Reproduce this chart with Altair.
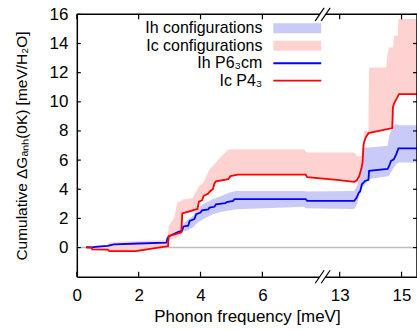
import altair as alt
import pandas as pd

# ---------------- data (frequencies in meV, values in meV/H2O) ----------------
# Ih P6_3cm cumulative curve (blue)
IH_F = [0.30, 0.50, 0.60, 1.00, 1.20, 2.00, 2.90, 2.93, 3.00, 3.30, 3.40, 3.45, 3.60, 3.65,
        3.80, 3.86, 4.00, 4.05, 4.25, 4.29, 4.45, 4.50, 4.80, 4.85, 5.05, 5.10, 7.40, 7.45,
        13.47, 13.55, 13.62, 13.66, 13.72, 13.82, 13.93, 13.95, 14.55, 14.60, 14.66, 14.75,
        14.83, 14.90, 15.50]
IH_Y = [0.03, 0.02, 0.05, 0.12, 0.22, 0.28, 0.34, 0.65, 0.80, 1.10, 1.15, 1.45, 1.50, 1.83,
        1.95, 2.29, 2.40, 2.56, 2.62, 2.75, 2.80, 2.97, 3.05, 3.12, 3.20, 3.32, 3.32, 3.20,
        3.20, 3.43, 3.78, 3.85, 4.35, 4.57, 4.65, 5.26, 5.40, 5.60, 5.95, 6.05,
        6.41, 6.80, 6.80]

# Ic P4_3 cumulative curve (red)
IC_F = [0.30, 0.47, 0.50, 1.00, 1.05, 1.90, 2.90, 2.95, 2.97, 3.38, 3.41, 3.90, 3.95, 4.05,
        4.10, 4.25, 4.30, 4.40, 4.45, 4.50, 4.90, 4.97, 5.20, 7.40, 7.45, 12.90, 13.47,
        13.55, 13.63, 13.70, 13.74, 13.77, 13.79, 13.84, 13.93, 14.70, 14.72, 14.76, 14.92,
        15.50]
IC_Y = [0.00, 0.00, -0.12, -0.14, -0.25, -0.25, 0.08, 0.10, 0.78, 1.05, 2.35, 2.65, 3.15, 3.25,
        3.55, 3.70, 3.85, 4.00, 4.40, 4.55, 4.70, 4.90, 5.00, 5.00, 4.83, 4.64, 4.51,
        4.60, 4.90, 5.40, 5.84, 7.00, 7.25, 7.55, 7.85, 8.20, 9.62, 9.90, 10.53,
        10.53]

# Ih configurations band (lavender)
IHB_F = [0.30, 1.00, 1.20, 2.00, 2.90, 2.93, 3.00, 3.30, 3.40, 3.45, 3.54, 3.75, 3.90, 4.08,
         4.40, 4.67, 4.94, 5.15, 7.35, 7.40, 13.47, 13.57, 13.63, 13.74, 13.84, 13.95,
         14.55, 14.60, 14.70, 14.81, 14.92, 15.50]
IHB_LO = [0.00, 0.08, 0.15, 0.22, 0.28, 0.55, 0.70, 1.00, 1.05, 1.10, 1.14, 1.37, 1.70, 1.94,
          2.29, 2.45, 2.55, 2.63, 2.80, 2.70, 2.65, 3.00, 3.54, 4.12, 4.40, 4.70,
          4.90, 4.95, 5.30, 5.70, 5.84, 5.84]
IHB_HI = [0.06, 0.18, 0.28, 0.35, 0.42, 0.80, 0.95, 1.25, 1.40, 1.60, 1.83, 2.17, 2.60, 2.97,
          3.32, 3.54, 3.78, 3.89, 3.89, 3.85, 3.89, 4.30, 4.92, 6.87, 6.87, 6.87,
          6.98, 7.66, 8.24, 8.47, 8.40, 8.40]

# Ic configurations band (pink)
ICB_F = [0.45, 0.50, 1.00, 1.05, 1.50, 2.00, 2.90, 2.95, 2.97, 3.15, 3.25, 3.38, 3.41, 3.75,
         3.90, 3.95, 4.10, 4.29, 4.40, 4.50, 4.67, 4.88, 4.97, 5.20, 7.35, 7.40, 7.45,
         13.47, 13.57, 13.63, 13.75, 13.79, 13.93, 13.95, 14.50, 14.54, 14.59, 14.72, 14.76,
         14.88, 14.90, 15.50]
ICB_LO = [-0.05, -0.15, -0.18, -0.30, -0.32, -0.28, 0.02, 0.05, 0.55, 0.60, 0.70, 0.95, 2.30,
          2.45, 2.62, 3.10, 3.50, 3.80, 3.95, 4.50, 4.60, 4.70, 4.90, 5.00, 5.00, 5.00, 4.83,
          4.51, 4.60, 4.90, 5.84, 7.21, 7.85, 7.90, 8.10, 8.15, 8.17, 8.20, 9.90,
          10.40, 10.53, 10.53]
ICB_HI = [0.05, 0.10, 0.20, 0.35, 0.42, 0.45, 0.50, 0.50, 1.48, 2.06, 3.09, 3.20, 3.30, 3.40,
          4.00, 4.23, 4.50, 5.38, 5.60, 5.84, 6.25, 6.70, 6.75, 6.75, 6.75, 6.60, 6.52,
          6.52, 6.29, 6.29, 6.29, 8.00, 8.00, 12.36, 12.36, 13.16, 13.73, 13.73, 14.53,
          14.53, 15.68, 15.68]

X_TICKS = [0, 2, 4, 6, 13, 15]
Y_TICKS = [0, 2, 4, 6, 8, 10, 12, 14, 16]
LEGEND = ["Ih configurations", "Ic configurations", "Ih P6\u2083cm", "Ic P4\u2083"]

# ---------------- broken axis settings ----------------
GAP = 4.5           # frequency range removed between the two segments
X_MAX = 15.5
BREAK = 7.95        # break position in plotted coordinates
W, H = 341, 263
FONT = "Liberation Sans"

XP = f"datum.f < 10 ? datum.f : datum.f - {GAP}"

x_axis = alt.Axis(
    values=[t if t < 10 else t - GAP for t in X_TICKS],
    labelExpr=f"datum.value < {BREAK} ? datum.value : datum.value + {GAP}",
    ticks=False, tickSize=0, grid=False, domainColor="black", domainWidth=1.5,
    labelFont=FONT, labelFontSize=17, labelColor="black", labelPadding=11,
    labelFlush=False, labelOverlap=False,
    title="Phonon frequency [meV]", titleFont=FONT, titleFontSize=17,
    titleFontWeight="normal", titleColor="black", titlePadding=5,
)
y_axis = alt.Axis(
    values=Y_TICKS, ticks=False, tickSize=0, grid=False, domainColor="black",
    domainWidth=1.5, labelFont=FONT, labelFontSize=17, labelColor="black",
    labelPadding=9, labelFlush=False, labelOverlap=False,
    title="Cumulative \u0394G\u2090\u2099\u2095(0K) [meV/H\u2082O]", titleFont=FONT,
    titleFontSize=15.5, titleFontWeight="normal", titleColor="black", titlePadding=20,
)
xs = alt.Scale(domain=[0, X_MAX - GAP], nice=False, zero=False)
ys = alt.Scale(domain=[-2, 16], nice=False, zero=False)


def X(field="xp"):
    return alt.X(f"{field}:Q", scale=xs, axis=x_axis)


def Y(field):
    return alt.Y(f"{field}:Q", scale=ys, axis=y_axis)


one = pd.DataFrame({"k": [0]})

zero = alt.Chart(pd.DataFrame({"v": [0]})).mark_rule(color="#bdbdbd", strokeWidth=1.5).encode(y=Y("v"))

ih_band = alt.Chart(pd.DataFrame({"f": IHB_F, "lo": IHB_LO, "hi": IHB_HI})).transform_calculate(
    xp=XP).mark_area(color="#cacaf8", opacity=1, interpolate="linear").encode(
    x=X(), y=Y("lo"), y2="hi:Q")
ic_band = alt.Chart(pd.DataFrame({"f": ICB_F, "lo": ICB_LO, "hi": ICB_HI})).transform_calculate(
    xp=XP).mark_area(color="#ffd2d2", opacity=1, interpolate="linear").encode(
    x=X(), y=Y("lo"), y2="hi:Q")
ih_line = alt.Chart(pd.DataFrame({"f": IH_F, "y": IH_Y})).transform_calculate(
    xp=XP).mark_line(color="#0000ff", strokeWidth=1.8).encode(x=X(), y=Y("y"), order="f:Q")
ic_line = alt.Chart(pd.DataFrame({"f": IC_F, "y": IC_Y})).transform_calculate(
    xp=XP).mark_line(color="#ff0000", strokeWidth=1.8).encode(x=X(), y=Y("y"), order="f:Q")

# inward ticks on all four sides
xt = pd.DataFrame({"f": X_TICKS})
yt = pd.DataFrame({"v": Y_TICKS})
tick_b = alt.Chart(xt).transform_calculate(xp=XP).mark_rule(color="black", strokeWidth=1.2).encode(
    x=X(), y=alt.value(H), y2=alt.value(H - 5))
tick_t = alt.Chart(xt).transform_calculate(xp=XP).mark_rule(color="black", strokeWidth=1.2).encode(
    x=X(), y=alt.value(0), y2=alt.value(5))
tick_l = alt.Chart(yt).mark_rule(color="black", strokeWidth=1.2).encode(
    y=Y("v"), x=alt.value(0), x2=alt.value(4))
tick_r = alt.Chart(yt).mark_rule(color="black", strokeWidth=1.2).encode(
    y=Y("v"), x=alt.value(W), x2=alt.value(W - 4))

frame_t = alt.Chart(one).mark_rule(color="black", strokeWidth=1.5).encode(
    x=alt.value(0), x2=alt.value(W), y=alt.value(0))
frame_r = alt.Chart(one).mark_rule(color="black", strokeWidth=1.5).encode(
    x=alt.value(W), y=alt.value(0), y2=alt.value(H))

# break marks "//" on the top and bottom axis lines
bpx = BREAK / (X_MAX - GAP) * W
breaks = []
for ybase in (0, H):
    breaks.append(alt.Chart(one).mark_rule(color="white", strokeWidth=5).encode(
        x=alt.value(bpx - 4.5), x2=alt.value(bpx + 4.5),
        y=alt.value(ybase + 6.5), y2=alt.value(ybase - 6.5)))
    for dx in (-3, 3):
        breaks.append(alt.Chart(one).mark_rule(color="black", strokeWidth=1.2).encode(
            x=alt.value(bpx + dx - 4.5), x2=alt.value(bpx + dx + 4.5),
            y=alt.value(ybase + 6.5), y2=alt.value(ybase - 6.5)))

# legend (drawn manually to mimic the original key)
LX_TEXT, LX0, LX1 = 186, 197, 245
rows = [14, 31.5, 49, 66.5]
legend = []
for i, lab in enumerate(LEGEND):
    legend.append(alt.Chart(pd.DataFrame({"label": [lab]})).mark_text(
        font=FONT, fontSize=16, align="right", baseline="middle", color="black").encode(
        text="label:N", x=alt.value(LX_TEXT), y=alt.value(rows[i])))
legend.append(alt.Chart(one).mark_rect(color="#cacaf8").encode(
    x=alt.value(LX0), x2=alt.value(LX1), y=alt.value(rows[0] - 5), y2=alt.value(rows[0] + 5)))
legend.append(alt.Chart(one).mark_rect(color="#ffd2d2").encode(
    x=alt.value(LX0), x2=alt.value(LX1), y=alt.value(rows[1] - 5), y2=alt.value(rows[1] + 5)))
legend.append(alt.Chart(one).mark_rule(color="#0000ff", strokeWidth=1.8).encode(
    x=alt.value(LX0), x2=alt.value(LX1), y=alt.value(rows[2])))
legend.append(alt.Chart(one).mark_rule(color="#ff0000", strokeWidth=1.8).encode(
    x=alt.value(LX0), x2=alt.value(LX1), y=alt.value(rows[3])))

chart = alt.layer(
    zero, ih_band, ic_band, ih_line, ic_line,
    tick_b, tick_t, tick_l, tick_r, frame_t, frame_r, *breaks, *legend,
).properties(
    width=W, height=H,
    padding={"left": 77, "top": 14, "right": 0, "bottom": 53},
    autosize=alt.AutoSizeParams(type="none"),
    background="white",
).configure_view(stroke=None)

chart.save("out.html", embed_options={"renderer": "svg", "actions": False})
